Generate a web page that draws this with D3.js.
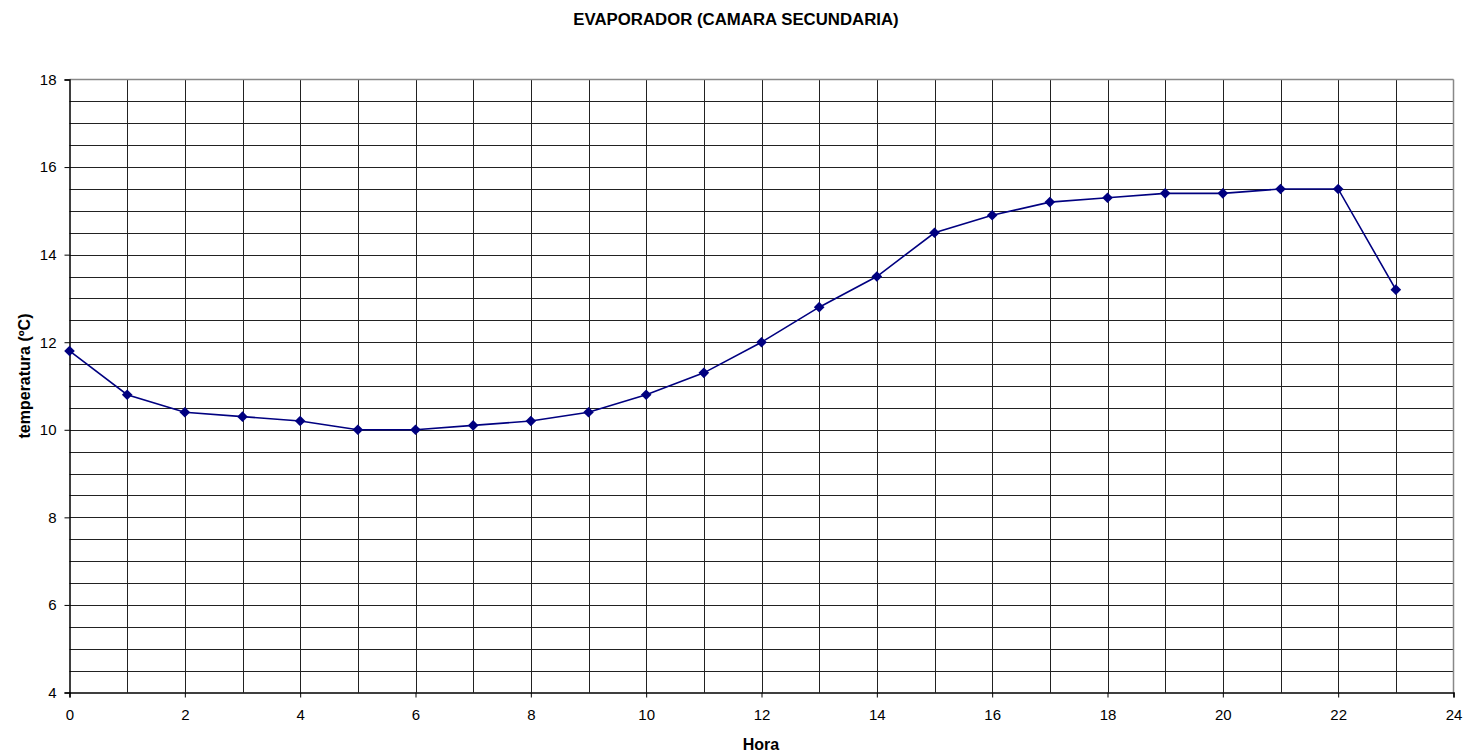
<!DOCTYPE html>
<html><head><meta charset="utf-8">
<script src="https://cdn.jsdelivr.net/npm/d3@7"></script>
<style>body{margin:0;background:#fff}svg{display:block}text{font-family:"Liberation Sans",Arial,sans-serif}</style>
</head><body><svg id="c" width="1470" height="755"></svg>
<script>
const hours = [0,1,2,3,4,5,6,7,8,9,10,11,12,13,14,15,16,17,18,19,20,21,22,23];
const temps = [11.8,10.8,10.4,10.3,10.2,10.0,10.0,10.1,10.2,10.4,10.8,11.3,12.0,12.8,13.5,14.5,14.9,15.2,15.3,15.4,15.4,15.5,15.5,13.2];
const xTicks = [0,2,4,6,8,10,12,14,16,18,20,22,24];
const yTicks = [4,6,8,10,12,14,16,18];
const title = "EVAPORADOR (CAMARA SECUNDARIA)";
const xTitle = "Hora";
const yTitle = "temperatura (ºC)";

const svg = d3.select("#c");
const L=69.5, R=1453.5, T=79.5, B=692.5;
const x = d3.scaleLinear().domain([0,24]).range([L,R]);
const y = d3.scaleLinear().domain([4,18]).range([B,T]);

const g = svg.append("g");
g.selectAll(".vg").data(d3.range(1,24)).join("line")
  .attr("x1",d=>Math.round(x(d))+0.5).attr("x2",d=>Math.round(x(d))+0.5)
  .attr("y1",T).attr("y2",B).attr("stroke","#222").attr("stroke-width",1);
g.selectAll(".hg").data(d3.range(4.5,18,0.5)).join("line")
  .attr("y1",d=>Math.round(y(d))+0.5).attr("y2",d=>Math.round(y(d))+0.5)
  .attr("x1",L).attr("x2",R).attr("stroke","#222").attr("stroke-width",1);
svg.append("line").attr("x1",L).attr("x2",R).attr("y1",T).attr("y2",T).attr("stroke","#888").attr("stroke-width",1.5);
svg.append("line").attr("x1",R).attr("x2",R).attr("y1",T).attr("y2",B).attr("stroke","#888").attr("stroke-width",1.5);

const xAxis = svg.append("g").attr("transform",`translate(0,${B})`)
  .call(d3.axisBottom(x).tickValues(xTicks).tickSize(5).tickPadding(12).tickFormat(d3.format("d")));
const yAxis = svg.append("g").attr("transform",`translate(${L},0)`)
  .call(d3.axisLeft(y).tickValues(yTicks).tickSize(5).tickPadding(8).tickFormat(d3.format("d")));
[xAxis,yAxis].forEach(a=>{
  a.attr("font-size",15);
  a.select(".domain").attr("stroke","#000").attr("stroke-width",1.5);
  a.selectAll(".tick line").attr("stroke","#000");
  a.selectAll("text").attr("font-size",15).attr("fill","#000").attr("font-family","'Liberation Sans',Arial,sans-serif");
});

const line = d3.line().x((d,i)=>x(hours[i])).y(d=>y(d));
svg.append("path").datum(temps).attr("d",line).attr("fill","none").attr("stroke","#000080").attr("stroke-width",1.6);
svg.selectAll(".pt").data(temps).join("path")
  .attr("d",d3.symbol().type(d3.symbolDiamond2).size(72))
  .attr("transform",(d,i)=>`translate(${x(hours[i])},${y(d)})`)
  .attr("fill","#000080");

svg.append("text").attr("x",736).attr("y",25).attr("text-anchor","middle")
  .attr("font-size",16.8).attr("font-weight","bold").text(title);
svg.append("text").attr("x",761).attr("y",750).attr("text-anchor","middle")
  .attr("font-size",16).attr("font-weight","bold").text(xTitle);
svg.append("text").attr("transform","translate(30,376) rotate(-90)").attr("text-anchor","middle")
  .attr("font-size",16).attr("font-weight","bold").text(yTitle);
</script></body></html>
